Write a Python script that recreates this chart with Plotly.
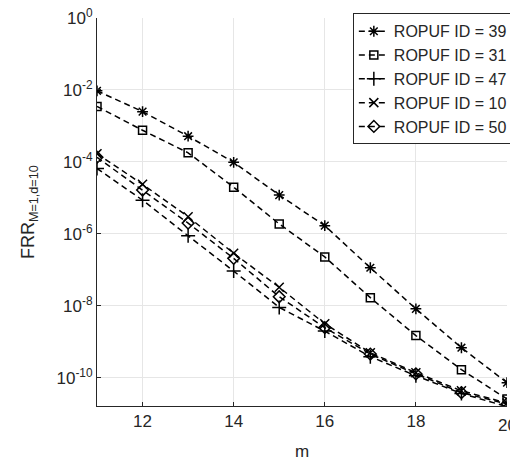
import plotly.graph_objects as go

m = [11, 12, 13, 14, 15, 16, 17, 18, 19, 20]
names = ["ROPUF ID = 39", "ROPUF ID = 31", "ROPUF ID = 47", "ROPUF ID = 10", "ROPUF ID = 50"]
frr_39 = [9.5e-3, 2.5e-3, 5.2e-4, 9.8e-5, 1.2e-5, 1.7e-6, 1.15e-7, 8.3e-9, 6.9e-10, 7.4e-11]
frr_31 = [3.5e-3, 7.6e-4, 1.8e-4, 2.0e-5, 1.9e-6, 2.3e-7, 1.7e-8, 1.5e-9, 1.7e-10, 2.6e-11]
frr_47 = [6.6e-5, 8.7e-6, 8.9e-7, 9.3e-8, 9.1e-9, 2.0e-9, 3.9e-10, 1.15e-10, 3.7e-11, 1.6e-11]
frr_10 = [1.7e-4, 2.4e-5, 3.0e-6, 2.9e-7, 3.3e-8, 3.2e-9, 5.0e-10, 1.4e-10, 4.4e-11, 2.0e-11]
frr_50 = [1.35e-4, 1.66e-5, 2.0e-6, 2.1e-7, 1.8e-8, 2.5e-9, 4.6e-10, 1.3e-10, 3.9e-11, 1.9e-11]
series = [frr_39, frr_31, frr_47, frr_10, frr_50]
symbols = ["asterisk-open", "square-open", "cross-thin-open", "x-thin-open", "diamond-open"]
sizes = [9, 8, 10, 9, 9]

ytick_vals = [1e0, 1e-2, 1e-4, 1e-6, 1e-8, 1e-10]
ytick_text = ["10<sup>0</sup>", "10<sup>-2</sup>", "10<sup>-4</sup>", "10<sup>-6</sup>",
              "10<sup>-8</sup>", "10<sup>-10</sup>"]
xtick_vals = [12, 14, 16, 18]
xtick_last = 20
x_title = "m"
y_title = "FRR<sub>M=1,d=10</sub>"

FONT = "Arial, Liberation Sans, sans-serif"
TXT = "#262626"

fig = go.Figure()
for nm, ys, sym, sz in zip(names, series, symbols, sizes):
    fig.add_trace(go.Scatter(
        x=m, y=ys, name=nm, mode="lines+markers",
        line=dict(color="black", width=1.5, dash="6px,4px"),
        marker=dict(symbol=sym, size=sz, color="black", line=dict(color="black", width=1.5)),
        cliponaxis=True,
    ))

# last x tick label, drawn at the right edge (partly cut by the page edge, as in the source)
fig.add_annotation(x=xtick_last, y=0, xref="x", yref="paper", yanchor="top",
                   yshift=-8, text=str(xtick_last), showarrow=False,
                   font=dict(family=FONT, size=17, color=TXT))
# axis titles
fig.add_annotation(x=0.5, y=0, xref="paper", yref="paper", yanchor="middle", xanchor="center",
                   yshift=-45, text=x_title, showarrow=False,
                   font=dict(family=FONT, size=17, color=TXT))
fig.add_annotation(x=0, y=0.5, xref="paper", yref="paper", yanchor="middle", xanchor="center",
                   xshift=-68, text=y_title, textangle=-90, showarrow=False,
                   font=dict(family=FONT, size=18, color=TXT))

fig.update_layout(
    width=510, height=460,
    margin=dict(l=97, r=3, t=18, b=54, autoexpand=False),
    paper_bgcolor="white", plot_bgcolor="white",
    font=dict(family=FONT, size=17, color=TXT),
    showlegend=True,
    legend=dict(x=0.624, y=1.012, xanchor="left", yanchor="top",
                bgcolor="white", bordercolor=TXT, borderwidth=1,
                font=dict(family=FONT, size=16, color=TXT),
                tracegroupgap=0, itemwidth=30),
    xaxis=dict(range=[11, 20], tickvals=xtick_vals + [xtick_last], ticktext=[str(v) for v in xtick_vals] + [""],
               ticks="inside", ticklen=4,
               tickcolor=TXT, showline=True, linecolor=TXT, linewidth=1,
               showgrid=True, gridcolor="#e6e6e6", gridwidth=1, zeroline=False, automargin=False,
               tickfont=dict(family=FONT, size=17, color=TXT)),
    yaxis=dict(type="log", range=[-10.78, 0], tickvals=ytick_vals, ticktext=ytick_text,
               ticks="inside", ticklen=4, tickcolor=TXT, showline=True,
               linecolor=TXT, linewidth=1, showgrid=True, gridcolor="#e6e6e6",
               gridwidth=1, zeroline=False, automargin=False,
               tickfont=dict(family=FONT, size=17, color=TXT)),
)

# remove the browser's default 8px body margin so the figure fills the window exactly
fig.write_html("out.html", config={"displayModeBar": False},
               post_script="document.body.style.margin='0';document.body.style.overflow='hidden';")
